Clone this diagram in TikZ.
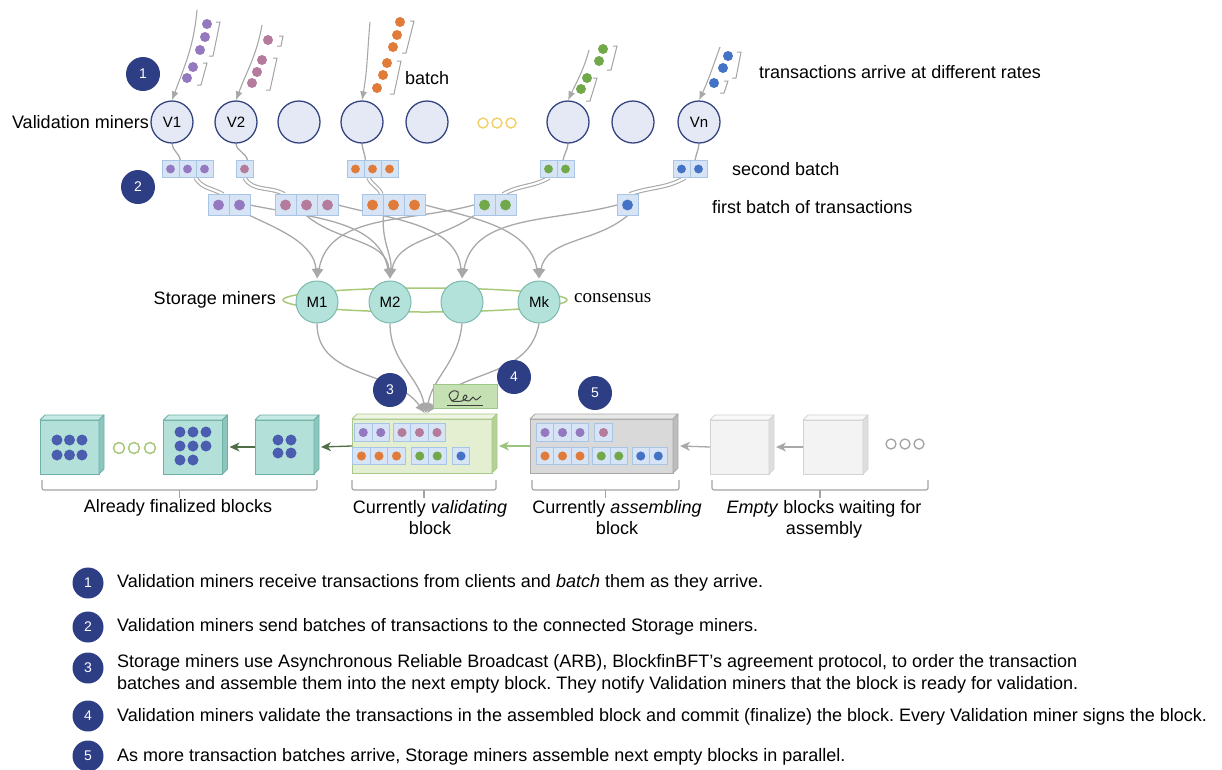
\documentclass[tikz,border=0pt]{standalone}
\usepackage{fontspec}
\setmainfont{Liberation Sans}
\newfontfamily\consfont{Liberation Serif}
\usetikzlibrary {arrows.meta, positioning, calc}
\usetikzlibrary {backgrounds, shapes.geometric}
\tikzset{
    >={Latex}
}
\frenchspacing

\definecolor{navy}{HTML}{2D3E85}
\definecolor{vline}{HTML}{34457F}
\definecolor{vfill}{HTML}{E5E8F5}
\definecolor{sline}{HTML}{7DB9AF}
\definecolor{sfill}{HTML}{B3E2DA}
\definecolor{cellline}{HTML}{A8C5E6}
\definecolor{cellfill}{HTML}{D6E4F5}
\definecolor{flowgray}{HTML}{A8A8A8}
\definecolor{tpurple}{HTML}{9479C0}
\definecolor{tpink}{HTML}{B57B9D}
\definecolor{torange}{HTML}{E07B39}
\definecolor{tgreen}{HTML}{70A84A}
\definecolor{tblue}{HTML}{4472C4}
\definecolor{findot}{HTML}{4B5DAE}
\definecolor{ringgreen}{HTML}{A9C97A}
\definecolor{dotsyellow}{HTML}{F2CF66}
\definecolor{chaingreen}{HTML}{4F6E45}
\definecolor{lightgreen}{HTML}{9CC47F}
\definecolor{sigfill}{HTML}{C5E0B3}
\definecolor{sigline}{HTML}{9FC689}
\definecolor{bracegray}{HTML}{A3A3A3}
\definecolor{finLine}{HTML}{6FB0A5}
\definecolor{finFront}{HTML}{B3E1DA}
\definecolor{finTop}{HTML}{C6EAE4}
\definecolor{finSide}{HTML}{8CC7BE}
\definecolor{valLine}{HTML}{A9C88A}
\definecolor{valFront}{HTML}{E3EFD0}
\definecolor{valTop}{HTML}{EEF5E2}
\definecolor{valSide}{HTML}{B5D296}
\definecolor{asmLine}{HTML}{A8A8A8}
\definecolor{asmFront}{HTML}{D9D9D9}
\definecolor{asmTop}{HTML}{E8E8E8}
\definecolor{asmSide}{HTML}{BDBDBD}
\definecolor{empLine}{HTML}{D3D3D3}
\definecolor{empFront}{HTML}{F3F3F3}
\definecolor{empTop}{HTML}{F9F9F9}
\definecolor{empSide}{HTML}{DEDEDE}

\tikzset{
    vminer/.style={circle, draw=vline, fill=vfill, line width=1.3pt, minimum size=42pt,
        inner sep=0pt, font=\fontsize{15}{15}\selectfont},
    sminer/.style={circle, draw=sline, fill=sfill, line width=1pt, minimum size=42pt,
        inner sep=0pt, font=\fontsize{15}{15}\selectfont},
    badge/.style={circle, fill=navy, text=white, minimum size=34pt, inner sep=0pt,
        font=\fontsize{14}{14}\selectfont},
    cell/.style={draw=cellline, fill=cellfill, line width=0.9pt, minimum size=#1, inner sep=0pt},
    flow/.style={draw=flowgray, line width=1.3pt},
    feed/.style={flow, line width=1.1pt, -{Latex[length=9pt,width=7pt]}},
    into/.style={flow, -{Latex[length=10pt,width=9pt]}, shorten >=2pt},
    pair/.style={flow, line width=1.1pt, double=white, double distance=2.2pt},
    chain/.style={line width=1.3pt, -{Stealth[length=10pt,width=9pt,inset=3pt]}},
    bracket/.style={draw=bracegray, line width=1pt},
    brace/.style={draw=bracegray, line width=1.1pt, rounded corners=2pt},
    lbl/.style={inner sep=0pt},
}

% a batch of transactions: name, x, y, count, colour, cell size
\newcommand{\batch}[6]{%
    \node[minimum width={#4*#6pt}, minimum height={#6pt}, inner sep=0pt] (#1) at (#2,#3) {};
    \foreach \i in {1,...,#4}{
        \node[cell={#6pt}] at ({#2+(\i-(#4+1)/2)*#6},#3) {};
        \fill[#5] ({#2+(\i-(#4+1)/2)*#6},#3) circle ({#6*0.26});
    }
}
% a block drawn as a box: name, x, y, width, height, colour prefix
\newcommand{\cube}[6]{%
    \node[draw=#6Line, fill=#6Front, line width=0.9pt, minimum width=#4pt, minimum height=#5pt,
        inner sep=0pt, outer sep=0pt] (#1) at (#2,#3) {};
    \filldraw[draw=#6Line, fill=#6Top, line width=0.9pt, line join=round]
        (#1.north west) -- ++(5,5) -- ++(#4,0) -- (#1.north east) -- cycle;
    \filldraw[draw=#6Line, fill=#6Side, line width=0.9pt, line join=round]
        (#1.north east) -- ++(5,5) -- ++(0,-#5) -- (#1.south east) -- cycle;
}
% bracket beside a batch of arriving transactions
\newcommand{\brk}[4]{\draw[bracket] ({#1-4},#2) -- (#1,#2) -- (#3,#4) -- ({#3-4},#4);}
% bracket under a group of blocks
\newcommand{\under}[3]{%
    \draw[brace] (#1,{#3+10}) -- (#1,#3) -- (#2,#3) -- (#2,{#3+10});
    \draw[brace] ({(#1+#2)/2},#3) -- ++(0,-8);
}

\begin{document}
\begin{tikzpicture}[x=1pt, y=1pt, font=\fontsize{18}{21}\selectfont]
\useasboundingbox (0,0) rectangle (1222,-769);

% validation miners
\foreach \n/\x/\t in {V1/172/V1, V2/236/V2, V3/299/{}, V4/362/{}, V5/427/{},
        V6/568/{}, V7/633/{}, Vn/699/Vn}
    \node[vminer] (\n) at (\x,-122) {\t};
\foreach \x in {483,497,511}
    \draw[dotsyellow, line width=1.4pt] (\x,-123) circle (5);
\node[lbl, anchor=east] (vlabel) at (149,-122) {Validation miners};

% arriving transactions
\coordinate (f1) at (197,-10);
\coordinate (f2) at (262,-25);
\coordinate (f4) at (370,-22);
\coordinate (f6) at (589,-50);
\coordinate (fn) at (720,-47);
\draw[feed] (f1) to[out=-95, in=70] (V1.north);
\draw[feed] (f2) to[out=-100, in=70] (V2.north);
\draw[feed] (f4) to[out=-95, in=80] (V4.north);
\draw[feed] (f6) to[out=-105, in=65] (V6.north);
\draw[feed] (fn) to[out=-110, in=65] (Vn.north);
\foreach \p in {(207,-24),(205,-37),(200,-50),(193,-67),(187,-78)}
    \fill[tpurple] \p circle (5);
\foreach \p in {(268,-40),(262,-60),(257,-72),(252,-83)}
    \fill[tpink] \p circle (5);
\foreach \p in {(400,-22),(397,-35),(393,-47),(387,-63),(383,-75),(377,-88)}
    \fill[torange] \p circle (5);
\foreach \p in {(603,-49),(599,-61),(587,-78),(581,-89)}
    \fill[tgreen] \p circle (5);
\foreach \p in {(728,-56),(723,-68),(714,-83)}
    \fill[tblue] \p circle (5);
\brk{220}{-22}{213}{-56} \brk{207}{-63}{201}{-85}
\brk{283}{-36}{281}{-46} \brk{277}{-58}{270}{-90}
\brk{414}{-21}{406}{-53} \brk{401}{-61}{394}{-94}
\brk{617}{-46}{611}{-70} \brk{597}{-78}{590}{-101}
\brk{741}{-52}{736}{-78} \brk{728}{-81}{724}{-93}
\node[lbl, anchor=west] (batchlabel) at (405,-78) {batch};
\node[lbl, anchor=west] (ratelabel) at (759,-72) {transactions arrive at different rates};

% batches
\batch{sb1}{187.5}{-169}{3}{tpurple}{17}
\batch{sb2}{244.5}{-169}{1}{tpink}{17}
\batch{sb4}{372.5}{-169}{3}{torange}{17}
\batch{sb6}{557}{-169}{2}{tgreen}{17}
\batch{sbn}{690}{-169}{2}{tblue}{17}
\batch{fb1}{229}{-205}{2}{tpurple}{21}
\batch{fb2}{306.5}{-205}{3}{tpink}{21}
\batch{fb4}{393.5}{-205}{3}{torange}{21}
\batch{fb6}{495}{-205}{2}{tgreen}{21}
\batch{fbn}{627.5}{-205}{1}{tblue}{21}
\node[lbl, anchor=west] (sblabel) at (732,-169) {second batch};
\node[lbl, anchor=west] (fblabel) at (712,-207) {first batch of transactions};

% storage miners
\draw[ringgreen, line width=1.5pt] (425,-300) ellipse (142 and 12);
\foreach \n/\x/\t in {M1/317/M1, M2/390/M2, M3/462/{}, Mk/539/Mk}
    \node[sminer] (\n) at (\x,-302) {\t};
\node[lbl, anchor=east] (slabel) at (276,-300) {Storage miners};
\node[lbl, anchor=west, font=\consfont\fontsize{19}{19}\selectfont] (conslabel) at (574,-298) {consensus};

% batches travel to the storage miners
\begin{scope}[on background layer]
    \draw[flow] (V1.south) to[out=-85, in=100] ([xshift=-7pt]sb1.north);
    \draw[flow] (V2.south) to[out=-85, in=100] ([xshift=3pt]sb2.north);
    \draw[flow] (V4.south) to[out=-85, in=95] ([xshift=-7pt]sb4.north);
    \draw[flow] (V6.south) to[out=-95, in=80] ([xshift=6pt]sb6.north);
    \draw[flow] (Vn.south) to[out=-95, in=80] ([xshift=5pt]sbn.north);
    \draw[pair] ([xshift=8pt]sb1.south) to[out=-60, in=150] ([xshift=-6pt]fb1.north);
    \draw[pair] (sb2.south) to[out=-60, in=150] ([xshift=-22pt]fb2.north);
    \draw[pair] ([xshift=-4pt]sb4.south) to[out=-70, in=110] ([xshift=-12pt]fb4.north);
    \draw[pair] ([xshift=-8pt]sb6.south) to[out=-150, in=30] ([xshift=8pt]fb6.north);
    \draw[pair] ([xshift=-5pt]sbn.south) to[out=-150, in=20] ([xshift=2pt]fbn.north);
    \draw[into] (fb1.south east) to[out=-25, in=95] (M1.north);
    \draw[into] (fb1.east) to[out=-12, in=100] (M2.north);
    \draw[into] (fb2.south) to[out=-40, in=95] (M2.north);
    \draw[into] (fb2.east) to[out=-15, in=95] (M3.north);
    \draw[into] ([xshift=-10pt]fb4.south) to[out=-95, in=85] (M2.north);
    \draw[into] (fb4.east) to[out=-15, in=100] (Mk.north);
    \draw[into] (fb6.west) to[out=195, in=80] (M1.north);
    \draw[into] (fb6.south west) to[out=215, in=80] (M2.north);
    \draw[into] (fbn.west) to[out=195, in=80] (M3.north);
    \draw[into] (fbn.south) to[out=220, in=80] (Mk.north);
\end{scope}

% blocks
\cube{b1}{69.5}{-447}{59}{54}{fin}
\cube{b2}{193}{-447}{59}{54}{fin}
\cube{b3}{284.5}{-447}{59}{54}{fin}
\cube{vb}{422}{-446}{140}{54}{val}
\cube{ab}{601.5}{-446}{143}{54}{asm}
\cube{e1}{739.5}{-447}{59}{54}{emp}
\cube{e2}{833}{-447}{60}{54}{emp}
\foreach \x/\y in {57/-440, 69.5/-440, 82/-440, 57/-455, 69.5/-455, 82/-455}
    \fill[findot] (\x,\y) circle (5.5);
\foreach \x/\y in {180/-432, 193/-432, 206/-432, 180/-446, 193/-446, 206/-446, 180/-460, 193/-460}
    \fill[findot] (\x,\y) circle (5.5);
\foreach \x/\y in {278/-440, 291/-440, 278/-453, 291/-453}
    \fill[findot] (\x,\y) circle (5.5);
\foreach \x in {119,134,150}
    \draw[ringgreen, line width=1.5pt] (\x,-448) circle (5.5);
\foreach \x in {891,905,919}
    \draw[bracegray, line width=1.3pt] (\x,-444) circle (5);
% batches inside the validating and assembling blocks
\batch{vb1}{372}{-432.5}{2}{tpurple}{17.5}
\batch{vb2}{419.5}{-432.5}{3}{tpink}{17.5}
\batch{vb4}{379}{-456}{3}{torange}{17.5}
\batch{vb6}{428.5}{-456}{2}{tgreen}{17.5}
\batch{vbn}{461}{-456}{1}{tblue}{17.5}
\batch{ab1}{562.5}{-432.5}{3}{tpurple}{17.5}
\batch{ab2}{603.5}{-432.5}{1}{tpink}{17.5}
\batch{ab4}{562.5}{-456}{3}{torange}{17.5}
\batch{ab6}{610}{-456}{2}{tgreen}{17.5}
\batch{abn}{649.5}{-456}{2}{tblue}{17.5}
% chain of blocks
\draw[chain, chaingreen] (vb.west) -- ([xshift=7pt]b3.east);
\draw[chain, chaingreen] (b3.west) -- ([xshift=7pt]b2.east);
\draw[chain, lightgreen] (ab.west) -- ([xshift=7pt]vb.east);
\draw[chain, flowgray] (e1.west) -- ([xshift=7pt]ab.east);
\draw[chain, flowgray] (e2.west) -- ([xshift=7pt]e1.east);

% storage miners hand the block over
\coordinate (vin) at (426,-415);
\draw[into] (M1.south) to[out=-90, in=125] (vin);
\draw[into] (M2.south) to[out=-90, in=100] (vin);
\draw[into] (M3.south) to[out=-95, in=80] (vin);
\draw[into] (Mk.south) to[out=-100, in=55] (vin);
\node[draw=sigline, fill=sigfill, line width=1pt, minimum width=64pt, minimum height=24pt] (sig) at (465,-396) {};
\draw[black!75, line width=1pt, line join=round] plot[smooth, tension=0.6] coordinates
    {(452,-401) (449,-395) (453,-391) (458,-392) (457,-398) (452,-401) (462,-401)
     (467,-397) (465,-395) (463,-399) (469,-401) (473,-397) (476,-400) (481,-396)};
\draw[black!75, line width=1pt] (447,-405) -- (483,-405);

% brackets and captions under the blocks
\under{42}{317}{-490}
\under{352}{496}{-490}
\under{532}{679}{-490}
\under{712}{928}{-490}
\node[lbl] (finlabel) at (178,-508) {Already finalized blocks};
\node[lbl, align=center, anchor=north] (vallabel) at (430,-500) {Currently \textit{validating}\\block};
\node[lbl, align=center, anchor=north] (asmlabel) at (617,-500) {Currently \textit{assembling}\\block};
\node[lbl, align=center, anchor=north] (emplabel) at (824,-500) {\textit{Empty} blocks waiting for\\assembly};

% step badges
\node[badge] (s1) at (143,-74) {1};
\node[badge] (s2) at (138,-187) {2};
\node[badge] (s3) at (390,-390) {3};
\node[badge] (s4) at (514,-377) {4};
\node[badge] (s5) at (595,-393) {5};

% legend
\begin{scope}[every node/.style={lbl, anchor=west, font=\fontsize{18}{22}\selectfont}]
    \node[badge, anchor=center, minimum size=31pt] (k1) at (88,-583) {1};
    \node (d1) at (117,-583) {Validation miners receive transactions from clients and \textit{batch} them as they arrive.};
    \node[badge, anchor=center, minimum size=31pt] (k2) at (88,-627) {2};
    \node (d2) at (117,-627) {Validation miners send batches of transactions to the connected Storage miners.};
    \node[badge, anchor=center, minimum size=31pt] (k3) at (88,-668) {3};
    \node[align=left] (d3) at (117,-674) {Storage miners use Asynchronous Reliable Broadcast (ARB), BlockfinBFT’s agreement protocol, to order the transaction\\batches and assemble them into the next empty block. They notify Validation miners that the block is ready for validation.};
    \node[badge, anchor=center, minimum size=31pt] (k4) at (88,-716) {4};
    \node (d4) at (117,-717) {Validation miners validate the transactions in the assembled block and commit (finalize) the block. Every Validation miner signs the block.};
    \node[badge, anchor=center, minimum size=31pt] (k5) at (88,-756) {5};
    \node (d5) at (117,-757) {As more transaction batches arrive, Storage miners assemble next empty blocks in parallel.};
\end{scope}
\end{tikzpicture}
\end{document}
